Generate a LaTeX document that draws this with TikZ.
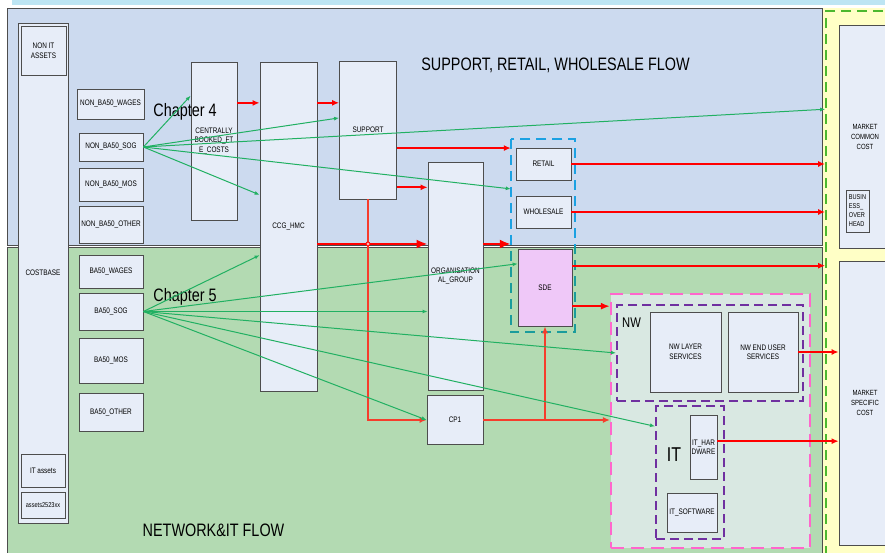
\documentclass[tikz,border=0pt]{standalone}
\usepackage{fontspec}
\setmainfont{Liberation Sans}[FakeStretch=0.8]
\usetikzlibrary{arrows.meta,calc}

\definecolor{topband}{HTML}{BDE5F3}
\definecolor{supblue}{HTML}{CCDAEF}
\definecolor{netgreen}{HTML}{B3DAB2}
\definecolor{boxfill}{HTML}{E7EDF8}
\definecolor{boxline}{HTML}{4D4D4D}
\definecolor{mktyellow}{HTML}{FFFFC6}
\definecolor{mktdash}{HTML}{4CB82E}
\definecolor{flowgreen}{HTML}{21B062}
\definecolor{flowred}{HTML}{FF0000}
\definecolor{linkred}{HTML}{F63C2C}
\definecolor{grpblue}{HTML}{1BA1E2}
\definecolor{grpteal}{HTML}{1A9C9C}
\definecolor{grppink}{HTML}{FF66CC}
\definecolor{grppurple}{HTML}{7030A0}
\definecolor{grpfill}{HTML}{D9E8E2}
\definecolor{sdefill}{HTML}{EFC8F8}

\tikzset{
  wh/.style n args={2}{minimum width=#1pt, minimum height=#2pt},
  box/.style={draw=boxline, fill=boxfill, line width=.8pt, inner sep=0pt, align=center, font=\fontsize{8}{9.5}\selectfont},
  bigtext/.style={inner sep=0pt, font=\fontsize{18}{20}\selectfont},
  redflow/.style={draw=flowred, line width=1.8pt, -{Latex[length=7pt,width=6pt]}},
  redthick/.style={draw=flowred, line width=2.8pt, -{Latex[length=11pt,width=9pt]}},
  redlink/.style={draw=linkred, line width=1.9pt, -{Latex[length=7pt,width=6pt]}},
  greenflow/.style={draw=flowgreen, line width=1pt, -{Latex[length=5pt,width=4pt]}},
  grpdash/.style={line width=1.8pt, dash pattern=on 10pt off 6pt}
}

\begin{document}
\begin{tikzpicture}[x=1pt,y=-1pt]
  \useasboundingbox (0,0) rectangle (885,553);

  % flow regions
  \fill[topband] (12,0) rectangle (885,5);
  \draw[fill=supblue, draw=boxline, line width=.8pt] (7,8) rectangle (822,245);
  \draw[fill=netgreen, draw=boxline, line width=.8pt] (7,247) rectangle (822,560);
  \fill[mktyellow] (823,8) rectangle (890,560);
  \node[draw=mktdash, fill=mktyellow, grpdash, wh={74}{549}] (mktzone) at (863,285.5) {};

  \node[bigtext] (supflow) at (555.5,65) {SUPPORT, RETAIL, WHOLESALE FLOW};
  \node[bigtext] (netflow) at (213.5,530) {NETWORK\&IT FLOW};

  % cost base column
  \node[box, wh={50}{500}] (costbase) at (43,273) {COSTBASE};
  \node[box, wh={45}{49}] (nonit) at (43.5,50.5) {NON IT\\ASSETS};
  \node[box, wh={44}{33}] (itassets) at (43,470.5) {IT assets};
  \node[box, wh={44}{26}, font=\fontsize{7}{8}\selectfont] (assetsxx) at (43,505) {assets2523xx};

  \node[box, wh={67}{30}] (nonwages) at (110.5,104) {NON\_BA50\_WAGES};
  \node[box, wh={64}{28}] (nonsog) at (111,147) {NON\_BA50\_SOG};
  \node[box, wh={64}{33}] (nonmos) at (111,184.5) {NON\_BA50\_MOS};
  \node[box, wh={64}{37}] (nonother) at (111,224.5) {NON\_BA50\_OTHER};
  \node[box, wh={64}{33}] (wages) at (111,271.5) {BA50\_WAGES};
  \node[box, wh={64}{37}] (sog) at (111,311.5) {BA50\_SOG};
  \node[box, wh={64}{45}] (mos) at (111,360.5) {BA50\_MOS};
  \node[box, wh={64}{38}] (other) at (111,412) {BA50\_OTHER};

  % allocation blocks
  \node[box, wh={46}{158}] (cbooked) at (214,141) {CENTRALLY\\BOOKED\_FT\\E\_COSTS};
  \node[box, wh={57}{329}] (ccghmc) at (288.5,226.5) {CCG\_HMC};
  \node[box, wh={57}{138}] (support) at (368,130) {SUPPORT};
  \node[box, wh={55}{228}] (orggroup) at (455.5,276) {ORGANISATION\\AL\_GROUP};
  \node[box, wh={56}{49}] (cp1) at (455,420) {CP1};

  \node[bigtext] (chapfour) at (185,112) {Chapter 4};
  \node[bigtext] (chapfive) at (185,297) {Chapter 5};

  % retail, wholesale, sde
  \node[wh={64}{193}, inner sep=0pt] (sdegrp) at (543,235.5) {};
  \begin{scope}
    \clip (500,100) rectangle (600,246);
    \draw[grpblue, grpdash] (sdegrp.north west) rectangle (sdegrp.south east);
  \end{scope}
  \begin{scope}
    \clip (500,246) rectangle (600,340);
    \draw[grpteal, grpdash] (sdegrp.north west) rectangle (sdegrp.south east);
  \end{scope}
  \node[box, wh={55}{32}] (retail) at (543.5,164) {RETAIL};
  \node[box, wh={55}{32}] (wholesale) at (543.5,212) {WHOLESALE};
  \node[box, fill=sdefill, wh={54}{77}] (sde) at (545,287.5) {SDE};

  % network and it
  \node[draw=grppink, fill=grpfill, line width=2.2pt, dash pattern=on 13pt off 7pt, wh={199}{254}] (pinkgrp) at (710.5,421) {};
  \node[draw=grppurple, line width=2pt, dash pattern=on 9pt off 5pt, wh={186}{96}] (nwgrp) at (710,353) {};
  \node[draw=grppurple, line width=2pt, dash pattern=on 9pt off 5pt, wh={68}{133}] (itgrp) at (690,472.5) {};
  \node[inner sep=0pt, font=\fontsize{14}{16}\selectfont] (nwlabel) at (631.5,323) {NW};
  \node[inner sep=0pt, font=\fontsize{20}{22}\selectfont] (itlabel) at (674,455) {IT};
  \node[box, wh={71}{80}] (nwlayer) at (685.5,352) {NW LAYER\\SERVICES};
  \node[box, wh={70}{80}] (nwend) at (763,352) {NW END USER\\SERVICES};
  \node[box, wh={27}{64}] (ithw) at (703.5,447) {IT\_HAR\\DWARE};
  \node[box, wh={50}{39}] (itsw) at (692,512.5) {IT\_SOFTWARE};

  % market cost
  \node[box, wh={52}{223}, font=\fontsize{7.5}{10}\selectfont] (mktcommon) at (865,136.5) {MARKET\\COMMON\\COST};
  \node[box, wh={23}{42}, align=left, font=\fontsize{7}{9}\selectfont] (bizoh) at (857.5,211) {BUSIN\\ESS\_\\OVER\\HEAD};
  \node[box, wh={52}{284}, font=\fontsize{7.5}{10}\selectfont] (mktspecific) at (865,403) {MARKET\\SPECIFIC\\COST};

  % red flows
  \draw[redflow] ($(cbooked.north east)!.26!(cbooked.south east)$) coordinate (ra) -- (ra -| ccghmc.west);
  \draw[redflow] ($(ccghmc.north east)!.125!(ccghmc.south east)$) coordinate (rb) -- (rb -| support.west);
  \draw[redflow] ($(support.north east)!.63!(support.south east)$) coordinate (rc) -- (rc -| sdegrp.west);
  \draw[redflow] ($(support.north east)!.913!(support.south east)$) coordinate (rd) -- (rd -| orggroup.west);
  \draw[redlink] (support.south) |- (cp1.west);
  \draw[redlink] (cp1.east) -- (cp1.east -| pinkgrp.west);
  \draw[redlink] (cp1.east -| sde.south) -- (sde.south);
  \draw[redthick] ($(ccghmc.north east)!.553!(ccghmc.south east)$) coordinate (re) -- (re -| orggroup.west);
  \draw[redthick] (re -| orggroup.east) -- (re -| sdegrp.west);
  \draw[flowred, fill=flowred!30, line width=.8pt] (re -| support.south) circle (2pt);
  \draw[redflow] (retail.east) -- (retail.east -| mktzone.west);
  \draw[redflow] (wholesale.east) -- (wholesale.east -| mktzone.west);
  \draw[redflow] ($(sde.north east)!.22!(sde.south east)$) coordinate (rf) -- (rf -| mktzone.west);
  \draw[redflow, line width=2.2pt, -{Latex[length=9pt,width=7pt]}] ($(sde.north east)!.74!(sde.south east)$) coordinate (rg) -- (rg -| pinkgrp.west);
  \draw[redflow] (nwend.east) -- (nwend.east -| mktspecific.west);
  \draw[redflow] ($(ithw.north east)!.41!(ithw.south east)$) coordinate (rh) -- (rh -| mktspecific.west);

  % green flows, chapter 4
  \draw[greenflow] (nonsog.east) -- ($(cbooked.north west)!.215!(cbooked.south west)$);
  \draw[greenflow] (nonsog.east) -- ($(ccghmc.north west)!.404!(ccghmc.south west)$);
  \draw[greenflow] (nonsog.east) -- ($(support.north west)!.413!(support.south west)$);
  \draw[greenflow] (nonsog.east) -- ($(mktzone.north west)!.18!(mktzone.south west)$);
  \draw[greenflow] (nonsog.east) -- ($(sdegrp.north west)!.259!(sdegrp.south west)$);

  % green flows, chapter 5
  \draw[greenflow] (sog.east) -- ($(ccghmc.north west)!.587!(ccghmc.south west)$);
  \draw[greenflow] (sog.east) -- ($(sde.north west)!.195!(sde.south west)$);
  \draw[greenflow] (sog.east) -- (sog.east -| orggroup.west);
  \draw[greenflow] (sog.east) -- (nwgrp.west);
  \draw[greenflow] (sog.east) -- ($(itgrp.north west)!.158!(itgrp.south west)$);
  \draw[greenflow] (sog.east) -- (cp1.west);

\end{tikzpicture}
\end{document}
